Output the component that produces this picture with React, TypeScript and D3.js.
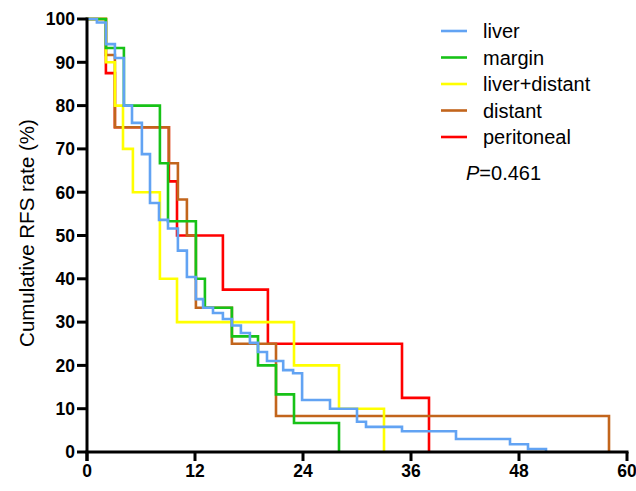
import { scaleLinear, line, curveStepAfter } from "d3";

const width = 636;
const height = 491;

// survival curves, months vs cumulative RFS (%)
const liverT = [0, 1.1, 2.1, 3.1, 4.1, 5.0, 6.1, 7.0, 8.0, 9.0, 10.1, 11.1, 12.1, 12.9, 14.0, 15.1, 16.1, 17.1, 18.1, 19.0, 20.0, 21.8, 22.9, 23.9, 27.0, 30.0, 31.0, 35.0, 41.0, 47.0, 49.0, 51.0];
const liverS = [100, 99.2, 94.2, 91, 80, 76, 68.8, 57.5, 53.6, 51.6, 46.5, 40.4, 35.3, 33.3, 32.1, 30.7, 29.2, 27.5, 25.2, 23.1, 21, 18.9, 18.2, 12, 10, 7, 5.8, 4.8, 3, 1.8, 0.7, 0];

const marginT = [0, 2.1, 4.1, 8.1, 9, 12.1, 13.1, 16.1, 19, 21, 23, 28];
const marginS = [100, 93.3, 80, 66.7, 53.3, 40, 33.3, 26.7, 20, 13.3, 6.7, 0];

const liverDistantT = [0, 2.1, 3.1, 4, 5.1, 8.1, 10, 23, 28, 33];
const liverDistantS = [100, 90, 80, 70, 60, 40, 30, 20, 10, 0];

const distantT = [0, 2.1, 3.1, 9.1, 10.1, 11.1, 12.1, 16.1, 21, 58];
const distantS = [100, 91.7, 75, 66.7, 58.3, 50, 33.3, 25, 8.3, 0];

const peritonealT = [0, 2.1, 3.1, 9.1, 10, 15.1, 20.1, 35, 38];
const peritonealS = [100, 87.5, 75, 62.5, 50, 37.5, 25, 12.5, 0];

const series = [
    { name: "liver", color: "#62a3f3", t: liverT, s: liverS },
    { name: "margin", color: "#17c217", t: marginT, s: marginS },
    { name: "liver+distant", color: "#ffff00", t: liverDistantT, s: liverDistantS },
    { name: "distant", color: "#c2651c", t: distantT, s: distantS },
    { name: "peritoneal", color: "#ff0000", t: peritonealT, s: peritonealS },
];

// back to front
const drawOrder = ["peritoneal", "distant", "liver+distant", "margin", "liver"];

const xTicks = [0, 12, 24, 36, 48, 60];
const yTicks = [0, 10, 20, 30, 40, 50, 60, 70, 80, 90, 100];

const font = "'Liberation Sans', Arial, sans-serif";

export default function App() {
    const x = scaleLinear().domain([0, 60]).range([87, 627]);
    const y = scaleLinear().domain([0, 100]).range([452, 19]);

    const path = line<[number, number]>()
        .x(d => x(d[0]))
        .y(d => y(d[1]))
        .curve(curveStepAfter);

    const ordered = drawOrder.map(n => series.find(s => s.name === n)!);

    return (
        <svg width={width} height={height} style={{ position: "absolute", left: 0, top: 0 }} fontFamily={font}>
            <rect width={width} height={height} fill="white" />

            {ordered.map(s => (
                <path
                    key={s.name}
                    d={path(s.t.map((t, i) => [t, s.s[i]] as [number, number])) || ""}
                    fill="none"
                    stroke={s.color}
                    strokeWidth={2.6}
                />
            ))}

            {/* y axis */}
            <line x1={x(0)} x2={x(0)} y1={y(100) - 1.5} y2={y(0) + 9} stroke="black" strokeWidth={3} />
            {yTicks.map(t => (
                <g key={t}>
                    <line x1={x(0) - 10} x2={x(0)} y1={y(t)} y2={y(t)} stroke="black" strokeWidth={3} />
                    <text x={75} y={y(t)} dy="0.36em" textAnchor="end" fontSize={17.5} fontWeight="bold">{t}</text>
                </g>
            ))}

            {/* x axis */}
            <line x1={x(0) - 1.5} x2={x(60) + 1.5} y1={y(0)} y2={y(0)} stroke="black" strokeWidth={3} />
            {xTicks.map(t => (
                <g key={t}>
                    <line x1={x(t)} x2={x(t)} y1={y(0)} y2={y(0) + 9} stroke="black" strokeWidth={3} />
                    <text x={x(t)} y={477} textAnchor="middle" fontSize={17.5} fontWeight="bold">{t}</text>
                </g>
            ))}

            <text transform={`translate(27,233) rotate(-90)`} dy="0.36em" textAnchor="middle" fontSize={20.5}>Cumulative RFS rate (%)</text>

            {/* legend */}
            {series.map((s, i) => (
                <g key={s.name}>
                    <line x1={441} x2={467} y1={31 + i * 26.5} y2={31 + i * 26.5} stroke={s.color} strokeWidth={2.6} />
                    <text x={483} y={31 + i * 26.5} dy="0.36em" fontSize={20}>{s.name}</text>
                </g>
            ))}
            <text x={466} y={173} dy="0.36em" fontSize={20}>
                <tspan fontStyle="italic">P</tspan>=0.461
            </text>
        </svg>
    );
}
